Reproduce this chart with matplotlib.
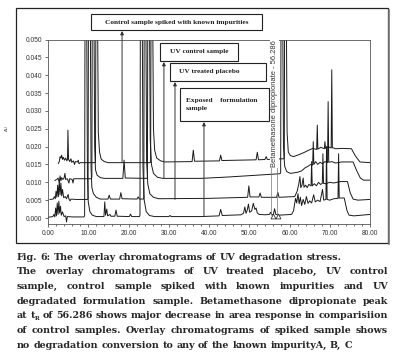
"""Overlay chromatograms of UV degradation stress (Fig. 6)."""

import numpy as np
import matplotlib
matplotlib.use("Agg")
import matplotlib.pyplot as plt
from matplotlib.patches import Rectangle
from matplotlib.ticker import MultipleLocator, FormatStrFormatter

# ---- data: (retention time min, absorbance AU) ----
spiked_control = [
    (2.55, 0.0153), (2.8, 0.0158), (3.0, 0.0172), (3.2, 0.0168), (3.4, 0.0176), (3.6, 0.0164),
    (3.8, 0.0170), (4.1, 0.0162), (4.4, 0.0168), (4.7, 0.0160), (4.85, 0.0165), (4.95, 0.0246),
    (5.1, 0.0165), (5.4, 0.0158), (5.7, 0.0166), (5.9, 0.0156), (6.3, 0.0160), (6.6, 0.0150),
    (6.8, 0.0158), (7.3, 0.0157), (7.5, 0.0162), (7.7, 0.0152), (8.0, 0.0155), (11.7, 0.0155),
    (11.8, 0.0160), (11.9, 0.060), (12.3, 0.060), (12.5, 0.024), (12.8, 0.0185), (13.2, 0.0165),
    (14.0, 0.0158), (15.0, 0.0155), (25.4, 0.0155),
    (25.5, 0.0160), (25.6, 0.060), (26.0, 0.060), (26.2, 0.025), (26.5, 0.019), (27.0, 0.0168),
    (28.0, 0.0160), (29.0, 0.0157), (35.8, 0.0158), (36.1, 0.0190), (36.4, 0.0159),
    (42.6, 0.0160), (42.9, 0.0176), (43.2, 0.0161), (51.7, 0.0163), (52.0, 0.0184), (52.3, 0.0163),
    (53.9, 0.0164), (54.2, 0.0172), (54.5, 0.0164), (58.6, 0.0166),
    (58.7, 0.0170), (58.8, 0.060), (59.2, 0.060), (59.4, 0.024), (59.7, 0.0185), (60.2, 0.0175),
    (61.0, 0.0172), (62.5, 0.0178), (63.7, 0.0184), (64.8, 0.0190), (65.8, 0.0195),
    (66.75, 0.0192), (66.9, 0.0260), (67.05, 0.0193), (67.8, 0.0198), (68.65, 0.0194),
    (68.8, 0.0214), (68.95, 0.0195), (69.6, 0.0200), (70.35, 0.0196), (70.5, 0.0415),
    (70.65, 0.0197), (71.5, 0.0194), (73.0, 0.0195), (75.4, 0.0194), (76.3, 0.0175),
    (77.5, 0.0157), (80.0, 0.0155),
]

uv_control = [
    (1.7, 0.0105), (2.2, 0.0108), (2.5, 0.0112), (2.8, 0.0100), (3.0, 0.0118), (3.2, 0.0104),
    (3.4, 0.0113), (3.7, 0.0108), (4.0, 0.0112), (4.2, 0.0125), (4.4, 0.0108), (4.8, 0.0110),
    (5.2, 0.0098), (5.4, 0.0110), (6.0, 0.0108), (6.2, 0.0098), (6.4, 0.0110), (10.8, 0.0110),
    (10.9, 0.0115), (11.0, 0.060), (11.4, 0.060), (11.6, 0.020), (11.8, 0.0135), (12.2, 0.0120),
    (13.0, 0.0113), (14.0, 0.0111), (18.6, 0.0111), (18.9, 0.0162), (19.2, 0.0112), (24.6, 0.0111),
    (24.7, 0.0116), (24.8, 0.060), (25.2, 0.060), (25.4, 0.022), (25.7, 0.015), (26.2, 0.0125),
    (27.2, 0.0114), (28.5, 0.0111), (38.0, 0.0111), (45.0, 0.0115), (52.0, 0.0120), (57.6, 0.0124),
    (57.8, 0.0126), (57.9, 0.060), (58.3, 0.060), (58.5, 0.020), (58.8, 0.0145), (59.3, 0.0130),
    (60.2, 0.0125), (62.0, 0.0128), (63.0, 0.0132), (63.8, 0.0140), (64.6, 0.0145), (65.3, 0.0150),
    (65.75, 0.0148), (65.9, 0.0214), (66.05, 0.0150), (66.5, 0.0158), (67.0, 0.0150),
    (67.6, 0.0156), (68.2, 0.0152), (68.8, 0.0158), (69.45, 0.0155), (69.6, 0.0326),
    (69.75, 0.0156), (70.5, 0.0158), (71.5, 0.0154), (73.0, 0.0157), (75.8, 0.0157),
    (76.6, 0.0135), (77.6, 0.0112), (78.4, 0.0106), (80.0, 0.0106),
]

uv_placebo = [
    (0.5, 0.0052), (1.3, 0.0053), (1.6, 0.0060), (1.8, 0.0054), (2.0, 0.0075), (2.2, 0.0058),
    (2.4, 0.0092), (2.6, 0.0060), (2.8, 0.0105), (3.0, 0.0065), (3.2, 0.0098), (3.4, 0.0062),
    (3.6, 0.0080), (3.9, 0.0057), (4.3, 0.0060), (4.6, 0.0054), (5.0, 0.0066), (5.2, 0.0053),
    (5.5, 0.0048), (5.7, 0.0053), (7.0, 0.0052), (9.8, 0.0052),
    (9.95, 0.0056), (10.05, 0.060), (10.5, 0.060), (10.7, 0.014), (10.9, 0.0085), (11.3, 0.0068),
    (12.0, 0.0058), (13.0, 0.0053), (14.9, 0.0053), (15.2, 0.0064), (15.5, 0.0053),
    (17.8, 0.0053), (18.1, 0.0071), (18.4, 0.0054), (22.1, 0.0053), (22.4, 0.0059), (22.7, 0.0053),
    (23.7, 0.0053), (23.8, 0.0058), (23.9, 0.060), (24.3, 0.060), (24.5, 0.016), (24.8, 0.0095),
    (25.3, 0.0068), (26.2, 0.0058), (27.5, 0.0054), (40.0, 0.0055), (49.6, 0.0058), (49.9, 0.0090),
    (50.2, 0.0059), (52.4, 0.0059), (52.7, 0.0070), (53.0, 0.0058), (56.8, 0.0058), (57.1, 0.0072),
    (57.4, 0.0058), (61.3, 0.0060), (61.9, 0.0075), (62.3, 0.0095), (62.6, 0.0116), (62.8, 0.0085),
    (63.1, 0.0092), (63.4, 0.0112), (63.6, 0.0086), (64.0, 0.0092), (64.4, 0.0085), (64.8, 0.0094),
    (65.35, 0.0090), (65.5, 0.0158), (65.65, 0.0090), (66.2, 0.0096), (66.7, 0.0090),
    (67.2, 0.0100), (67.7, 0.0094), (68.15, 0.0097), (68.3, 0.0180), (68.45, 0.0097),
    (69.0, 0.0096), (70.0, 0.0100), (71.0, 0.0098), (72.5, 0.0102), (74.4, 0.0102),
    (75.1, 0.0070), (75.8, 0.0053), (77.0, 0.0050), (80.0, 0.0052),
]

exposed_formulation = [
    (0.0, 0.0002), (1.2, 0.0004), (1.5, 0.0010), (1.7, 0.0003), (1.9, 0.0028), (2.1, 0.0006),
    (2.3, 0.0042), (2.5, 0.0010), (2.7, 0.0047), (2.9, 0.0014), (3.1, 0.0033), (3.3, 0.0008),
    (3.6, 0.0017), (4.0, 0.0004), (4.4, 0.0006), (4.6, -0.0011), (4.8, 0.0004), (6.0, 0.0003),
    (8.9, 0.0003), (9.1, 0.0006), (9.2, 0.060), (9.6, 0.060), (9.8, 0.012), (10.0, 0.0045),
    (10.4, 0.0018), (11.0, 0.0008), (12.0, 0.0004), (13.9, 0.0004), (14.1, 0.0045), (14.3, 0.0008),
    (14.6, 0.0025), (14.8, 0.0006), (15.4, 0.0010), (15.6, 0.0005), (16.6, 0.0005), (16.9, 0.0022),
    (17.2, 0.0005), (20.2, 0.0004), (20.5, 0.0011), (20.8, 0.0004), (22.7, 0.0004),
    (22.85, 0.0008), (22.95, 0.060), (23.4, 0.060), (23.6, 0.014), (23.9, 0.005), (24.4, 0.0018),
    (25.2, 0.0007), (26.5, 0.0004), (30.0, 0.0004), (30.3, 0.0007), (30.6, 0.0004), (38.0, 0.0004),
    (42.5, 0.0006), (42.9, 0.0024), (43.3, 0.0007), (48.0, 0.0009), (48.6, 0.0014), (48.9, 0.0031),
    (49.2, 0.0013), (49.5, 0.0022), (49.8, 0.0039), (50.1, 0.0016), (50.6, 0.0020), (51.0, 0.0041),
    (51.4, 0.0024), (51.7, 0.0028), (52.0, 0.0014), (52.5, 0.0010), (54.0, 0.0009), (55.0, 0.0010),
    (55.3, 0.0016), (55.6, 0.0009), (56.0, 0.0010), (56.3, 0.0026), (56.6, 0.0010), (57.5, 0.0008),
    (60.5, 0.0010), (61.0, 0.0020), (61.5, 0.0055), (61.8, 0.0042), (62.1, 0.0068), (62.4, 0.0040),
    (62.7, 0.0058), (63.0, 0.0035), (63.4, 0.0052), (63.8, 0.0038), (64.2, 0.0060), (64.6, 0.0041),
    (65.0, 0.0048), (65.5, 0.0042), (66.0, 0.0065), (66.4, 0.0045), (67.0, 0.0050), (67.6, 0.0046),
    (68.2, 0.0080), (68.5, 0.0050), (69.05, 0.0052), (69.2, 0.0200), (69.35, 0.0052), (70.0, 0.0050),
    (71.0, 0.0054), (72.05, 0.0055), (72.2, 0.0180), (72.35, 0.0056), (73.6, 0.0056), (74.3, 0.0020),
    (74.8, 0.0008), (76.0, 0.0006), (80.0, 0.0010),
]

# label, arrow time, trace baseline where the arrow starts
labels = ["Control sample spiked with known impurities", "UV control sample",
          "UV treated placebo", "Exposed    formulation\nsample"]
arrow_times = [18.4, 28.8, 31.55, 38.75]
arrow_bases = [0.0155, 0.0111, 0.0052, 0.0004]

peak_name = "Betamethasone dipropionate - 56.286"
peak_time = 56.2
marker_times = [55.9, 57.1]
x_ticks = np.arange(0, 81, 10)
y_ticks = np.arange(0, 0.0501, 0.005)

caption = [
    "Fig. 6: The overlay chromatograms of UV degradation stress.",
    "The overlay chromatograms of UV treated placebo, UV control",
    "sample, control sample spiked with known impurities and UV",
    "degradated formulation sample. Betamethasone dipropionate peak",
    "at t_R of 56.286 shows major decrease in area response in comparisiion",
    "of control samples. Overlay chromatograms of spiked sample shows",
    "no degradation conversion to any of the known impurityA, B, C",
]

W, H = 400, 363
fig = plt.figure(figsize=(W / 100, H / 100), dpi=100)


def fx(px):
    return px / W


def fy(py):
    return 1 - py / H


# outer frame around the chart
fig.patches.append(Rectangle((fx(16), fy(243)), fx(372), 235 / H, transform=fig.transFigure,
                             fill=False, ec="#222", lw=0.9, zorder=0))
fig.add_artist(plt.Line2D([fx(388.5), fx(388.5)], [fy(244), fy(10)], transform=fig.transFigure,
                          color="#777", lw=1.2))

ax = fig.add_axes([fx(48), fy(224), fx(322), 184.5 / H])
for trace in (spiked_control, uv_control, uv_placebo, exposed_formulation):
    t, v = np.array(trace).T
    ax.plot(t, v, color="#1a1a1a", lw=0.7)

ax.set_xlim(0, 80)
ax.set_ylim(-0.00168, 0.050)
ax.set_xticks(x_ticks)
ax.set_yticks(y_ticks)
ax.xaxis.set_minor_locator(MultipleLocator(2))
ax.xaxis.set_major_formatter(FormatStrFormatter("%.2f"))
ax.yaxis.set_major_formatter(FormatStrFormatter("%.3f"))
ax.tick_params(labelsize=4.8, length=2.5, width=0.5, pad=1.5, colors="#333",
               labelfontfamily="Liberation Sans")
ax.tick_params(which="minor", length=1.5, width=0.4)
for sp in ax.spines.values():
    sp.set_linewidth(0.6)
    sp.set_color("#555")

# peak marker for betamethasone dipropionate
ax.vlines([55.4, 57.0], 0.0008, 0.050, color="#777", lw=0.5)
ax.plot(marker_times, [0.0006, 0.0006], ls="none", marker="^", ms=3.5, mfc="white", mec="#333", mew=0.6)
ax.text(peak_time, 0.0499, peak_name, rotation=90, ha="center", va="top", fontsize=5.4,
        family="Liberation Sans", color="#333", zorder=5,
        bbox=dict(fc="white", ec="none", pad=0.6))
fig.text(fx(7), fy(128), "AU", rotation=90, fontsize=3, color="#555", ha="center", va="center")

# labelled boxes with arrows pointing up from the traces
boxes = [(91, 14, 262, 30), (160, 43, 238, 61), (170, 63, 266, 81), (180, 88, 269, 121)]
text_pos = [(176.5, 22.5, "center"), (199, 52, "center"), (209, 72, "center"), (186, 104.5, "left")]
for (x0, y0, x1, y1), (tx, ty, ha), label, t_arrow, base in zip(boxes, text_pos, labels, arrow_times, arrow_bases):
    fig.patches.append(Rectangle((fx(x0), fy(y1)), fx(x1 - x0), (y1 - y0) / H,
                                 transform=fig.transFigure, fc="white", ec="#222", lw=0.8, zorder=2))
    fig.text(fx(tx), fy(ty), label, ha=ha, va="center", fontsize=5.3, family="Liberation Serif",
             weight="bold", color="#222", linespacing=1.9, zorder=3)
    ax.annotate("", xy=(t_arrow, fy(y1 + 1)), xycoords=("data", "figure fraction"),
                xytext=(t_arrow, base), textcoords="data", annotation_clip=False,
                arrowprops=dict(arrowstyle="-|>", color="#333", lw=0.7, mutation_scale=5,
                                shrinkA=0, shrinkB=0))

# caption, justified like the journal layout
renderer = fig.canvas.get_renderer()
cap_kw = dict(family="DejaVu Serif", weight="bold", color="#262626", va="baseline")
probe = fig.text(0, 0, caption[0], fontsize=10, **cap_kw)
cap_size = 10 * 326 / probe.get_window_extent(renderer).width
probe.remove()
baselines = [259.5, 274.2, 288.9, 303.6, 318.3, 333.0, 347.7]
left, right = 17, 388
for i, (line, yb) in enumerate(zip(caption, baselines)):
    words = line.split(" ")
    arts = []
    for w in words:
        if w == "t_R":
            a = fig.text(0, fy(yb), "t", fontsize=cap_size, **cap_kw)
            b = fig.text(0, fy(yb + 2), "R", fontsize=cap_size * 0.6, **cap_kw)
            arts.append([a, b])
        else:
            arts.append([fig.text(0, fy(yb), w, fontsize=cap_size, **cap_kw)])
    widths = [sum(p.get_window_extent(renderer).width for p in grp) for grp in arts]
    space = fig.text(0, 0, "a a", fontsize=cap_size, **cap_kw)
    sp_w = space.get_window_extent(renderer).width
    aa = fig.text(0, 0, "aa", fontsize=cap_size, **cap_kw)
    sp_w -= aa.get_window_extent(renderer).width
    space.remove()
    aa.remove()
    if 1 <= i <= 5:
        gap = (right - left - sum(widths)) / (len(words) - 1)
    else:
        gap = sp_w
    x = left
    for grp, w in zip(arts, widths):
        xx = x
        for p in grp:
            p.set_x(fx(xx))
            xx += p.get_window_extent(renderer).width
        x += w + gap

fig.savefig("out.png", dpi=100)
